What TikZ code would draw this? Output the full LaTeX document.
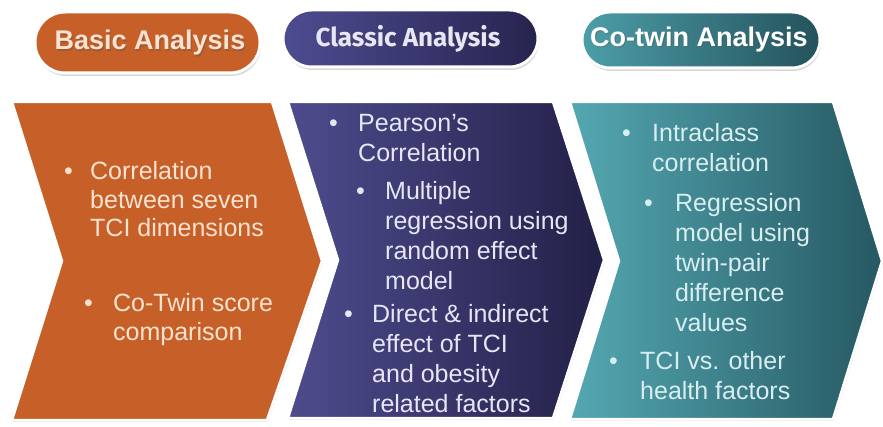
\documentclass[tikz,border=0pt]{standalone}
\usepackage{fontspec}
\setmainfont{Liberation Sans}
\newfontfamily\headfont{Fira Sans}
\usetikzlibrary{shadows}

\definecolor{orangeA}{RGB}{198,96,40}
\definecolor{purpleL}{RGB}{78,76,142}
\definecolor{purpleR}{RGB}{34,32,70}
\definecolor{tealL}{RGB}{84,168,178}
\definecolor{tealR}{RGB}{38,88,98}
\definecolor{pillPurL}{RGB}{78,76,145}
\definecolor{pillPurR}{RGB}{38,36,78}
\definecolor{pillTealL}{RGB}{76,158,168}
\definecolor{pillTealR}{RGB}{36,82,92}
\definecolor{txtOrange}{RGB}{250,226,208}
\definecolor{txtPurple}{RGB}{230,230,244}
\definecolor{txtTeal}{RGB}{216,238,240}

% bullet followed by a block of lines; the block's first baseline is the node's baseline
\newcommand\bulitem[2]{\makebox[#1][l]{\textbullet}\begin{tabular}[t]{@{}l@{}}#2\end{tabular}}

\begin{document}
\begin{tikzpicture}[x=1pt,y=-1pt,
  chevron/.style={draw=white, line width=2.5pt, line join=miter,
    drop shadow={opacity=0.25, shadow xshift=1pt, shadow yshift=-1.5pt}},
  pill/.style={draw=white, line width=3pt,
    drop shadow={opacity=0.3, shadow xshift=1pt, shadow yshift=-3pt}},
  pilltext/.style={font=\bfseries\fontsize{27}{27}\selectfont, inner sep=0pt},
  classicfont/.style={font=\headfont\bfseries\fontsize{26}{26}\selectfont},
  textshadow/.style={text=black!70, opacity=0.3},
  itemtext/.style={anchor=base west, inner sep=0pt, align=left},
]
\useasboundingbox (0,0) rectangle (883,427);
\fill[white] (0,0) rectangle (883,427);

% ---- chevrons ----
\fill[chevron, fill=orangeA]
  (12,102) -- (272,102) -- (322,261) -- (267,420) -- (12,420) -- (62,261) -- cycle;
\shade[chevron, left color=purpleL, right color=purpleR]
  (288,102) -- (553,102) -- (604,260) -- (553,418) -- (288,418) -- (338,260) -- cycle;
\shade[chevron, left color=tealL, right color=tealR]
  (570,102) -- (833,102) -- (882,261) -- (833,419) -- (570,419) -- (619,261) -- cycle;

% ---- headers ----
\fill[pill, fill=orangeA, rounded corners=30pt] (35,12) rectangle (260,73);
\shade[pill, left color=pillPurL, right color=pillPurR, rounded corners=28.5pt] (283,10) rectangle (538,67);
\shade[pill, left color=pillTealL, right color=pillTealR, rounded corners=28pt] (582,12) rectangle (820,68);

\node[pilltext, textshadow] at (151.2,44.2) {Basic Analysis};
\node[pilltext, text=txtOrange] (basic) at (150,43) {Basic Analysis};
\node[pilltext, classicfont, textshadow] at (409,39.7) {Classic Analysis};
\node[pilltext, classicfont, text=txtPurple] (classic) at (408,38.5) {Classic Analysis};
\node[pilltext, textshadow] at (700.2,40.7) {Co-twin Analysis};
\node[pilltext, text=white] (cotwin) at (699,39.5) {Co-twin Analysis};

% ---- basic analysis items ----
\begin{scope}[every node/.style={itemtext, text=txtOrange, font=\fontsize{25}{28.5}\selectfont}]
\node (b1) at (64,180) {\bulitem{26pt}{Correlation\\between seven\\TCI dimensions}};
\node (b2) at (84,312) {\bulitem{29pt}{Co-Twin score\\comparison}};
\end{scope}

% ---- classic analysis items ----
\begin{scope}[every node/.style={itemtext, text=txtPurple, font=\fontsize{25}{30}\selectfont}]
\node (c1) at (329,132) {\bulitem{29pt}{Pearson's\\Correlation}};
\node (c2) at (356,200) {\bulitem{29pt}{Multiple\\regression using\\random effect\\model}};
\node (c3) at (344,323) {\bulitem{28pt}{Direct \& indirect\\effect of TCI\\and obesity\\related factors}};
\end{scope}

% ---- co-twin analysis items ----
\begin{scope}[every node/.style={itemtext, text=txtTeal, font=\fontsize{25}{30}\selectfont}]
\node (t1) at (622,142) {\bulitem{30pt}{Intraclass\\correlation}};
\node (t2) at (644,212) {\bulitem{31pt}{Regression\\model using\\twin-pair\\difference\\values}};
\node (t3) at (609,370) {\bulitem{31pt}{TCI vs. other\\health factors}};
\end{scope}
\end{tikzpicture}
\end{document}
